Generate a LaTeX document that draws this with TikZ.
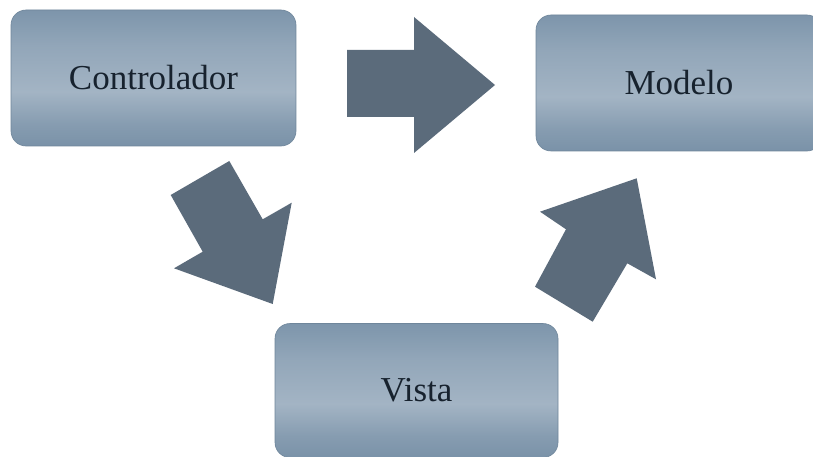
\documentclass[tikz,border=0pt]{standalone}
\usepackage{fontspec}
\setmainfont{Liberation Serif}
\definecolor{boxtop}{HTML}{7D95AB}
\definecolor{boxlight}{HTML}{A3B4C4}
\definecolor{boxbottom}{HTML}{7A92A8}
\definecolor{boxedge}{HTML}{6F869B}
\definecolor{arrowfill}{HTML}{5B6B7B}
\definecolor{labeltext}{HTML}{17222E}
% vertical gradient of the boxes: darker edges, light band below the middle
\pgfdeclareverticalshading{boxshade}{100bp}{%
  color(0bp)=(boxbottom); color(25bp)=(boxbottom); color(33bp)=(boxbottom!70!boxlight);
  color(45bp)=(boxlight); color(62bp)=(boxlight!55!boxtop); color(75bp)=(boxtop); color(100bp)=(boxtop)}
\tikzset{
  stage/.style={draw=boxedge, line width=0.6pt, rounded corners=15pt, shading=boxshade,
    text=labeltext, font=\fontsize{35}{40}\selectfont, inner sep=0pt},
  blockarrow/.style={fill=arrowfill, draw=none}
}
\begin{document}
\begin{tikzpicture}[x=1pt, y=-1pt]
  \clip (0,0) rectangle (813,457);
  \fill[white] (0,0) rectangle (813,457);

  % the three stages
  \node[stage, minimum width=285pt, minimum height=136pt] (ctrl) at (153.5,78) {Controlador};
  \node[stage, minimum width=286pt, minimum height=136pt] (model) at (679,83) {Modelo};
  \node[stage, minimum width=283pt, minimum height=134pt] (view) at (416.5,390.5) {Vista};

  % Controlador -> Modelo
  \fill[blockarrow] (347,50) -- (414,50) -- (414,17) -- (495,85) -- (414,153)
    -- (414,117) -- (347,117) -- cycle;

  % Controlador -> Vista
  \fill[blockarrow] (170.7,195) -- (229.3,161) -- (262.7,219.3) -- (291.7,202.7)
    -- (272.7,304) -- (174,268.3) -- (202.7,251.7) -- cycle;

  % Vista -> Modelo
  \fill[blockarrow] (535,286.7) -- (592.7,321.7) -- (627.3,263.3) -- (656,279.3)
    -- (636.7,178.3) -- (540,211.7) -- (566,229.3) -- cycle;
\end{tikzpicture}
\end{document}
